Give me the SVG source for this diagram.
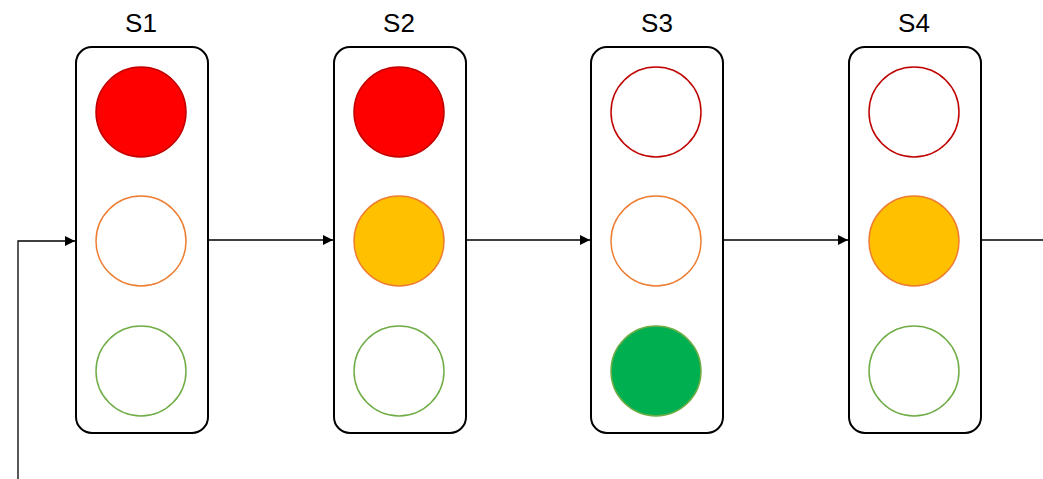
<svg xmlns="http://www.w3.org/2000/svg" width="1043" height="479" viewBox="0 0 1043 479">
<defs>
<style>
.box{fill:#fff;stroke:#000;stroke-width:2}
.lbl{font-family:"Liberation Sans",Arial,sans-serif;font-size:26px;fill:#000;text-anchor:middle}
.r{stroke:#C00000;stroke-width:1.5}
.o{stroke:#ED7D31;stroke-width:1.5}
.g{stroke:#70AD47;stroke-width:1.5}
.off{fill:#fff}
.conn{stroke:#000;stroke-width:1.3;fill:none}
</style>
<marker id="ah" markerWidth="10" markerHeight="10" refX="10" refY="5" orient="auto" markerUnits="userSpaceOnUse">
<path d="M0,0 L10,5 L0,10 Z" fill="#000"/>
</marker>
</defs>
<rect width="1043" height="479" fill="#fff"/>
<g id="S1">
<text class="lbl" x="141" y="32">S1</text>
<rect class="box" x="76" y="47" width="132" height="386" rx="16"/>
<circle class="r" cx="141" cy="112" r="45" fill="#FF0000"/>
<circle class="o off" cx="141" cy="241" r="45"/>
<circle class="g off" cx="141" cy="371" r="45"/>
</g>
<g id="S2">
<text class="lbl" x="399" y="32">S2</text>
<rect class="box" x="334" y="47" width="132" height="386" rx="16"/>
<circle class="r" cx="399" cy="112" r="45" fill="#FF0000"/>
<circle class="o" cx="399" cy="241" r="45" fill="#FFC000"/>
<circle class="g off" cx="399" cy="371" r="45"/>
</g>
<g id="S3">
<text class="lbl" x="657" y="32">S3</text>
<rect class="box" x="591" y="47" width="132" height="386" rx="16"/>
<circle class="r off" cx="656" cy="112" r="45"/>
<circle class="o off" cx="656" cy="241" r="45"/>
<circle class="g" cx="656" cy="371" r="45" fill="#00B050"/>
</g>
<g id="S4">
<text class="lbl" x="914" y="32">S4</text>
<rect class="box" x="849" y="47" width="132" height="386" rx="16"/>
<circle class="r off" cx="914" cy="112" r="45"/>
<circle class="o" cx="914" cy="241" r="45" fill="#FFC000"/>
<circle class="g off" cx="914" cy="371" r="45"/>
</g>
<g id="connectors">
<path class="conn" d="M18,479 L18,241 L75,241" marker-end="url(#ah)"/>
<path class="conn" d="M209,240 L333,240" marker-end="url(#ah)"/>
<path class="conn" d="M467,240 L590,240" marker-end="url(#ah)"/>
<path class="conn" d="M724,240 L848,240" marker-end="url(#ah)"/>
<path class="conn" d="M982,240 L1043,240"/>
</g>
</svg>
